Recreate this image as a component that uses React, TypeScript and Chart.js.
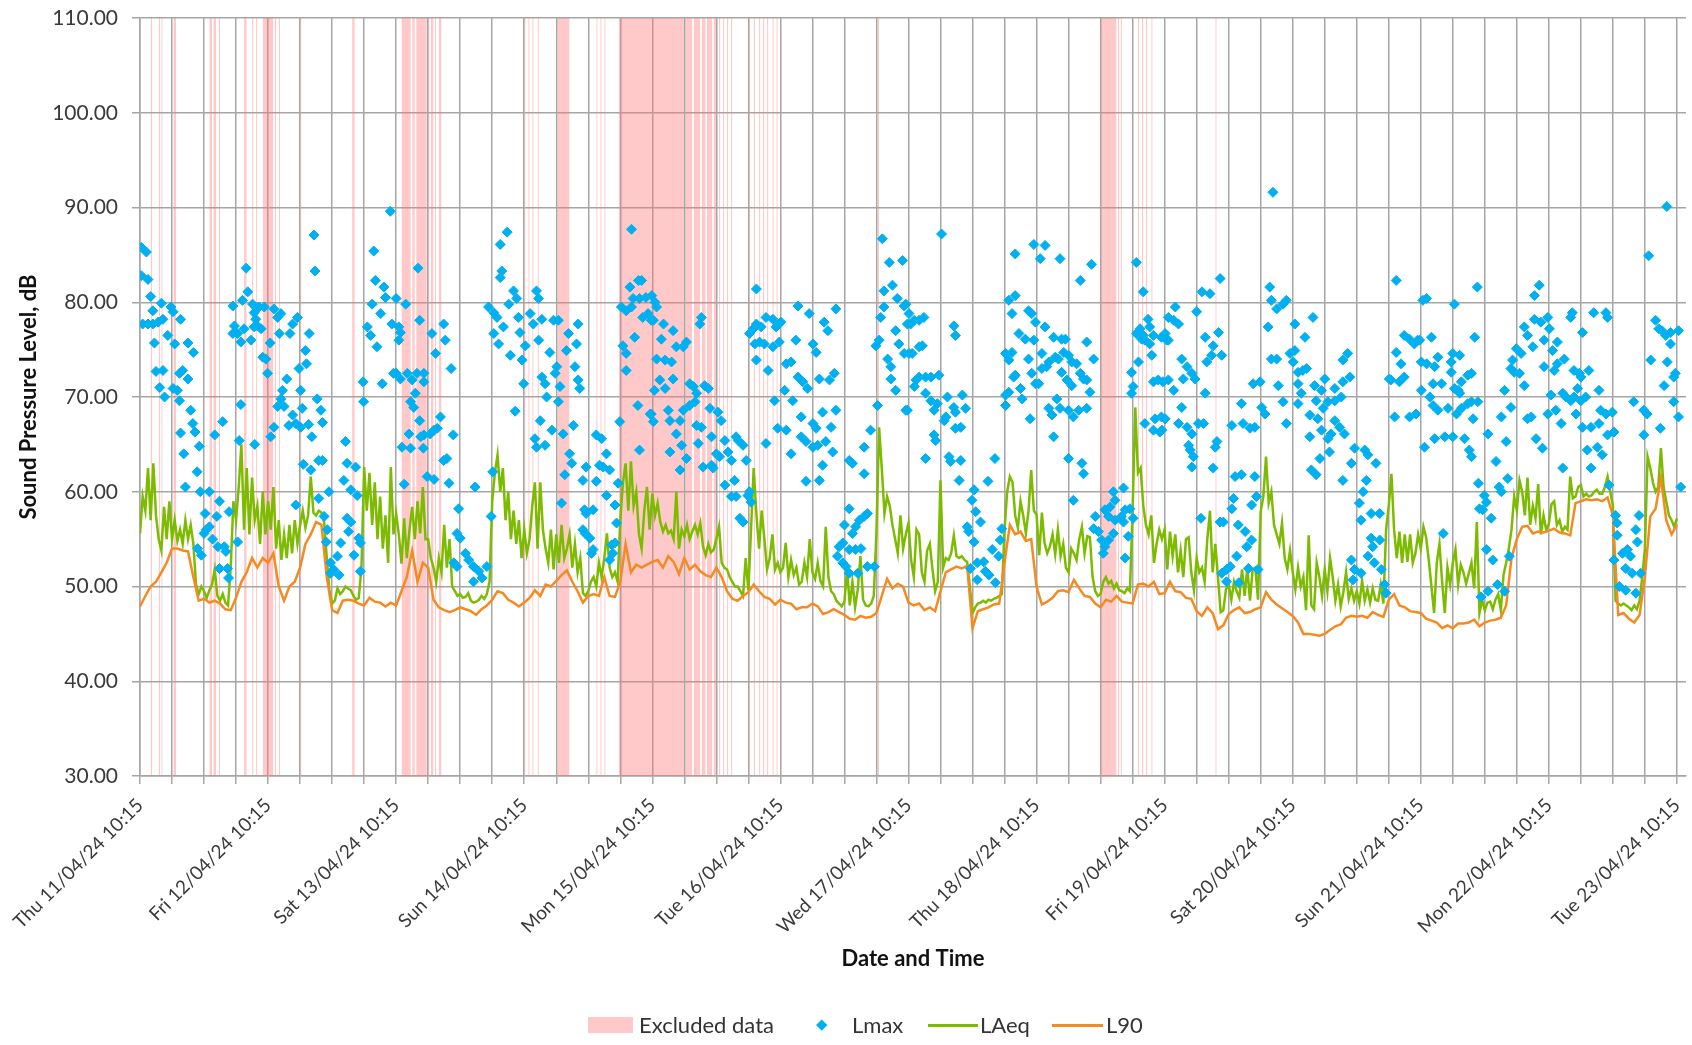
import React, { useEffect, useRef } from 'react';
import { Chart, registerables } from 'chart.js';

Chart.register(...registerables);

// Tick labels: one per day (every 24 h from the start of the survey)
const dayTickLabels = [
  'Thu 11/04/24 10:15', 'Fri 12/04/24 10:15', 'Sat 13/04/24 10:15', 'Sun 14/04/24 10:15',
  'Mon 15/04/24 10:15', 'Tue 16/04/24 10:15', 'Wed 17/04/24 10:15', 'Thu 18/04/24 10:15',
  'Fri 19/04/24 10:15', 'Sat 20/04/24 10:15', 'Sun 21/04/24 10:15', 'Mon 22/04/24 10:15',
  'Tue 23/04/24 10:15',
];

// LAeq, every 30 minutes from Thu 11/04/24 10:15 (hours 0 .. 288)
const laeqHalfHourly = [
  55.6,59.5, 58,62.5, 57,63, 57.5,55, 53.8,58.4, 55,59,
  55,57, 54.8,56, 54.5,57, 55,56.5, 54.5,50.2, 49.2,50,
  49.5,48.8, 49.6,50.2, 51.8,49, 48.5,49.2, 48.3,48, 52,59,
  57,60.5, 65,56, 62.5,55.5, 61.5,57, 58.5,54.5, 60,55.5,
  59,56, 60.5,54, 57,52.8, 55.5,53, 56.5,53.5, 57,54.5,
  56.5,58, 56.2,57.5, 61.6,57.8, 57.5,58, 57.8,56.8, 53,49.5,
  48.2,48.5, 49.8,49.2, 49.5,50, 49.8,49.6, 49,48.6, 48.8,52,
  62.6,58, 62,56.5, 61,55, 59.5,54, 57.5,52.5, 62.6,55.5,
  57.7,55.5, 52.4,57.2, 53,56, 58.4,55, 59,55.6, 60.5,55,
  55,53, 52,50.5, 53,51.5, 56.5,52, 55,50, 49.5,49,
  49.2,48.8, 48.9,49.3, 48.5,48.3, 48.4,48.6, 49,48.7, 49.2,50.5,
  59,62, 63.9,60, 62.5,57, 60,55, 58,54.5, 57,53,
  56,53.5, 55,58.5, 61,54, 61,56, 54,52.5, 56,51.8,
  55.5,52.5, 56.5,53, 54,55.5, 52,54.5, 51.5,53, 49.3,49,
  49.5,50.5, 51,50, 52.5,51, 53,55.6, 52,51, 51.5,50.5,
  57,61, 63,58, 63.2,58.5, 60,55.5, 54,58, 60.5,56,
  59.8,57.5, 58.8,56.8, 55.8,56.5, 55.6,55.9, 55,60, 54,56,
  55.3,56.5, 55,55.8, 56.5,55.5, 56.7,54.2, 53.3,54.5, 53.6,53.9,
  55,56.3, 52.5,52, 51.8,51, 50.5,50, 50,49.5, 49,53,
  49.6,56, 62.5,57.7, 54,58, 55,51.8, 53,55.5, 51.8,52.5,
  51.5,52, 54.6,51, 52.8,51.2, 52,50.2, 50.5,52.5, 51,55,
  51.5,50.8, 52.5,50.6, 50,56.3, 51,49.5, 49.2,48.5, 48.2,47.9,
  48.4,51.8, 48,50.5, 47.8,49.7, 53.2,48.6, 48,47.9, 48.2,49,
  55.8,66.8, 62.5,57.7, 59.5,58.5, 56.5,55, 53.5,57.5, 54,55.5,
  56.7,52.8, 51,56, 55.5,51.5, 50.5,53.8, 54.5,51.8, 49.5,50.5,
  61.2,52, 53,52.8, 53.5,55.4, 53.2,53, 53.2,52.8, 52.6,50,
  47.2,47.8, 48.2,48.3, 48.5,48.3, 48.6,48.5, 48.7,48.8, 49,49.2,
  56,60, 61.6,61, 57.5,56.2, 59,57.5, 55.6,58, 62.3,58,
  57.6,53.3, 57.8,54.6, 53.5,54.2, 55.5,53.4, 56,53.2, 54.5,52,
  51.5,54, 53.5,52.8, 55,56.3, 53.5,55.3, 55.2,51, 49.5,49,
  49.2,50.5, 51,50.3, 50.6,49.8, 50.3,49.6, 49.5,49.3, 49.8,49.5,
  58,68.9, 62,62.5, 58.5,56.5, 55.5,57.5, 52.5,54.5, 56,55,
  56,51.8, 55.8,53.2, 55.5,51.5, 53.8,51, 55,55.2, 51.5,49.6,
  53,51.5, 52,50.5, 55,58, 51.5,54.5, 51,47.3, 47.5,49.7,
  50.2,48.6, 50.5,49.5, 48.8,51.8, 49,52, 48.5,51.8, 52,48.6,
  57.9,59.5, 63.7,58.8, 60,56.5, 55.5,54.5, 56.7,53, 51.8,53.8,
  51.5,49.7, 52,50, 51,47.5, 55.4,48, 47.6,52.5, 51,49,
  51.8,49.5, 53,51, 48.5,50.2, 47.9,49.4, 51.5,48.7, 49.8,48.5,
  49.5,48.2, 50.6,48.5, 49.7,48.3, 49.8,48.6, 48.5,50.2, 48.2,56,
  58.5,61.9, 56,53, 55.8,52.5, 55.5,52.6, 55.5,52.5, 53.5,55.5,
  54,56.3, 55.2,52.8, 50,47.2, 52.5,54.5, 50.5,47.2, 52,50.2,
  52.5,53.9, 50.2,52.3, 51.5,50.3, 51.4,52.5, 49.8,56.8, 47.2,48.6,
  47.5,48.3, 48.4,47.6, 48.6,49.2, 47.5,51.2, 52.5,54, 56,59.5,
  58,61.2, 60,57.5, 61.5,56.5, 58.5,57.2, 60.8,55.5, 57.5,56,
  56.6,58.7, 59,56.5, 57,55.8, 56.3,56, 61.6,59.3, 59.5,60.5,
  60.7,59.5, 59.8,59.5, 59.6,60, 60.2,59.8, 59.8,60.5, 61.6,60,
  58.5,48.5, 48.2,48, 48.2,48, 47.8,47.5, 48,47.6, 48.5,51,
  54,63.7, 62.5,61, 60,60.5, 64.6,60.5, 59,57.5, 57,56.3,
  57.2,
];

// L90, hourly from Thu 11/04/24 10:15 (hours 0 .. 288)
const l90Hourly = [
  47.9, 49, 50, 50.5, 51.5, 52.5, 54, 54, 53.8, 53.7, 51, 48.5, 48.7,
  48.3, 48.5, 48.2, 47.6, 47.5, 48.8, 50.5, 51.5, 53, 52, 53, 52.5,
  53.5, 50, 48.5, 50, 50.5, 52, 54.5, 55.5, 56.8, 56.5, 51, 47.5,
  47.2, 48.5, 48.6, 48.5, 48.2, 48, 48.8, 48.4, 48.3, 47.9, 48.3, 48,
  49.5, 51, 53.8, 50.5, 52.5, 52, 48.6, 47.8, 47.5, 47.3, 47.5, 47.8,
  47.6, 47.4, 47, 47.6, 48, 48.6, 49.5, 49.3, 48.6, 48.3, 47.9, 48.3,
  48.8, 49.6, 49, 50.2, 50, 50.6, 51.2, 51.7, 50.5, 49.5, 48.3, 49,
  49.2, 49, 51, 49, 48.9, 50.5, 54.5, 51.5, 52.3, 52, 52.3, 52.6,
  52.8, 52, 53.2, 52.6, 51.3, 53, 51.8, 52.3, 51.6, 51.2, 51, 52,
  51, 49.5, 48.7, 48.5, 49, 49.4, 50.2, 49.5, 48.9, 48.7, 48.1, 48.6,
  48.3, 48.2, 47.6, 47.8, 47.8, 48.2, 47.9, 47.1, 47.3, 47.6, 47.3, 47,
  46.6, 46.5, 46.9, 46.7, 46.8, 47.2, 49, 50.8, 49.8, 50.3, 50, 48.3,
  48, 48.2, 47.5, 47.8, 47.4, 49.5, 51.5, 51.8, 52.1, 51.9, 52.2, 45.6,
  47.4, 47.6, 47.8, 48.1, 48.2, 52.5, 56.5, 55.5, 55.8, 54.8, 55, 50,
  48.1, 48.4, 48.8, 49.5, 49.6, 49.4, 50.7, 49.8, 49, 48.9, 48.2, 47.8,
  48.6, 48.4, 49, 48.4, 48.3, 48.2, 50.2, 50.3, 50, 50.5, 49.2, 49.3,
  50.5, 49.5, 49.4, 48.8, 48.7, 47.4, 46.9, 47.8, 47.2, 45.5, 45.9, 47.1,
  47.5, 47.8, 47.2, 47.3, 47.6, 47.8, 49.4, 48.6, 48.1, 47.7, 47.3, 46.9,
  46.2, 45, 45, 44.9, 44.8, 45, 45.4, 45.8, 46, 46.7, 46.9, 46.8,
  46.9, 46.7, 47.3, 47, 46.8, 48.6, 49.2, 48, 47.8, 47.4, 47.3, 47.2,
  46.6, 46.4, 46.2, 45.6, 45.9, 45.6, 46.1, 46.1, 46.2, 46.5, 45.8, 46.2,
  46.4, 46.5, 46.7, 48, 53, 55, 56.3, 56.4, 55.6, 55.8, 55.7, 55.9,
  56.1, 55.7, 55.6, 55.4, 58.8, 59, 59.2, 59.1, 59.2, 59, 59.4, 57.5,
  47, 47.2, 46.6, 46.2, 47, 51, 57.4, 58.2, 61.5, 57, 55.5, 56.5,
];

// Lmax readings: [hours since Thu 11/04/24 10:15, dB]
const lmaxReadings: [number, number][] = [
  [0.25,85.8],[0.25,82.8],[0.5,77.7],[1.2,85.3],[1.5,82.4],[1.5,77.7],[2.0,80.6],[2.4,79.1],[2.4,77.7],[2.7,75.7],
  [3.0,72.7],[3.4,77.9],[3.7,71.0],[4.0,79.9],[4.3,78.2],[4.3,72.8],[4.6,70.0],[5.2,76.5],[5.8,79.5],[6.2,79.0],
  [6.2,70.9],[6.5,75.6],[7.0,70.7],[7.4,72.5],[7.4,69.6],[7.6,78.2],[7.6,66.2],[8.0,72.8],[8.2,64.0],[8.5,60.5],
  [9.0,75.7],[9.0,71.9],[9.5,68.6],[9.9,67.2],[10.0,74.7],[10.3,66.3],[10.7,62.1],[10.8,54.0],[11.1,64.8],[11.3,60.0],
  [11.5,53.3],[12.0,55.6],[12.2,57.7],[12.4,56.0],[13.0,60.0],[13.0,56.3],[13.6,55.0],[14.0,66.0],[14.4,57.4],[14.6,54.2],
  [14.9,59.0],[14.9,51.9],[15.5,67.4],[15.8,54.2],[16.1,53.7],[16.4,51.9],[16.6,50.9],[16.7,57.9],[17.4,79.6],[17.4,76.7],
  [17.7,77.5],[18.3,54.7],[18.3,76.7],[18.6,65.4],[18.9,69.2],[18.9,75.8],[19.2,80.2],[19.5,77.2],[19.9,83.6],[20.2,81.1],
  [20.8,76.0],[21.1,79.8],[21.4,78.9],[21.4,77.4],[21.5,65.0],[21.7,78.2],[22.0,77.5],[22.3,79.5],[22.7,77.2],[23.0,74.2],
  [23.3,79.5],[23.6,74.0],[23.9,72.5],[24.4,75.7],[24.5,65.8],[25.1,79.3],[25.1,66.8],[25.8,78.4],[25.8,69.0],[26.1,76.7],
  [26.4,78.8],[26.4,69.8],[26.7,70.7],[27.0,69.0],[27.5,71.9],[27.9,67.0],[28.1,76.7],[28.6,77.7],[28.6,68.1],[29.2,67.2],
  [29.2,58.6],[29.5,78.4],[29.8,73.0],[30.1,70.7],[30.1,66.8],[30.4,68.8],[30.6,62.9],[31.0,74.9],[31.2,73.5],[31.6,67.1],
  [31.7,76.7],[32.0,62.3],[32.2,65.8],[32.6,87.1],[32.8,83.3],[33.2,69.8],[33.5,63.3],[33.5,59.3],[33.9,68.6],[34.2,67.3],
  [34.2,63.3],[34.5,57.4],[34.9,54.7],[35.1,56.0],[35.4,60.0],[35.7,52.5],[35.7,51.4],[36.3,51.8],[37.0,53.2],[37.3,51.2],
  [37.6,54.6],[38.2,61.2],[38.5,65.3],[38.8,63.0],[38.8,57.2],[39.1,55.8],[39.5,60.2],[39.5,56.8],[40.1,53.3],[40.4,62.6],
  [40.7,59.6],[41.0,55.1],[41.3,54.6],[41.3,51.6],[41.8,71.6],[41.9,69.5],[42.6,77.4],[43.2,76.5],[43.5,79.8],[43.8,85.4],
  [44.1,82.3],[44.4,75.3],[45.1,78.8],[45.4,71.4],[45.7,81.6],[46.0,80.5],[46.9,89.6],[47.2,77.7],[47.5,72.5],
  [48.0,80.4],[48.5,77.4],[48.8,76.8],[48.5,76.0],[49.8,79.8],[52.1,83.6],[52.4,78.1],[48.0,72.5],[48.8,71.9],[50.1,72.5],
  [51.0,71.8],[51.9,72.5],[53.2,72.5],[53.2,71.6],[51.6,70.4],[50.7,69.5],[51.3,68.9],[54.7,76.7],[56.9,77.7],[57.2,76.0],
  [55.4,74.6],[58.3,73.0],[56.3,67.9],[55.7,66.7],[55.1,66.5],[54.4,66.1],[52.4,67.5],[52.6,65.8],[53.2,66.0],[50.4,66.1],
  [49.1,64.7],[50.7,64.6],[53.1,64.6],[58.7,66.0],[56.9,63.3],[57.5,63.5],[49.5,60.8],[53.8,61.6],[55.1,61.3],[57.9,60.9],
  [62.8,60.5],[59.7,58.2],[59.4,55.6],[60.0,55.1],[61.0,53.5],[61.6,52.8],[58.8,52.5],[59.4,52.1],[62.5,52.1],[63.5,51.6],
  [62.5,50.5],[64.1,50.9],[65.0,52.1],[65.8,57.4],[66.1,62.1],[65.3,79.5],[66.3,78.9],[66.9,78.4],[67.5,86.1],[68.8,87.4],
  [67.8,83.3],[67.5,82.6],[66.3,76.7],[67.2,75.6],[68.1,77.4],[69.1,79.8],[70.0,81.2],[70.6,80.4],[69.4,74.4],[70.9,78.4],
  [71.2,76.8],[72.2,75.4],[71.6,73.9],[71.9,71.4],[70.3,68.5],[73.1,78.8],[73.7,77.7],[74.3,81.2],[74.7,80.4],[74.7,76.0],
  [75.3,78.2],[75.3,72.1],[75.9,71.4],[75.0,67.5],[74.0,65.6],[74.3,64.7],[76.2,70.0],[75.9,64.9],[76.8,74.7],[77.5,78.1],
  [78.4,78.1],[78.1,73.2],[77.8,72.5],[78.7,71.1],[78.4,69.5],[77.2,66.5],[79.3,66.1],[80.3,76.7],[79.9,74.9],[81.8,75.6],
  [82.1,77.7],[81.5,73.2],[82.1,71.8],[82.4,70.9],[81.2,67.0],[80.5,64.0],[80.9,63.0],[79.6,61.8],[79.0,58.8],[83.3,58.1],
  [83.6,57.7],[84.9,58.1],[83.0,56.0],[83.4,55.6],[84.3,55.1],[84.6,53.5],[84.9,53.9],[83.6,62.6],[83.0,61.2],[85.5,66.0],
  [86.5,65.6],[86.1,62.8],[86.8,62.6],[87.4,64.0],[88.0,62.3],[85.5,61.1],[87.4,59.6],[89.0,58.6],[89.3,56.7],[88.4,54.4],
  [89.0,54.6],[88.0,52.8],[88.6,53.5],[89.6,60.9],[89.9,67.4],[91.1,72.8],[90.5,75.4],[91.1,74.6],[90.2,79.5],[91.1,79.1],
  [92.1,79.5],[91.8,81.6],[93.4,82.3],[94.0,82.3],[92.1,87.7],[92.7,76.3],[92.4,80.4],[93.6,80.4],[94.8,80.5],[94.2,78.4],
  [95.2,78.8],[95.8,78.1],[93.3,69.1],[93.6,64.4],[95.8,68.2],[96.4,70.7],
  [95.9,80.7],[96.5,80.0],[96.8,79.5],[96.2,78.1],[98.1,77.7],[99.9,77.0],[97.7,76.1],[96.8,74.0],[98.4,73.9],[99.6,73.7],
  [100.5,75.3],[101.8,75.3],[102.4,75.8],[105.2,78.4],[104.9,77.7],[97.4,71.8],[98.4,70.9],[99.9,71.9],[103.0,71.4],[103.7,71.1],
  [104.3,70.4],[105.8,71.2],[106.5,70.9],[95.6,68.2],[96.2,67.4],[99.0,68.6],[99.3,67.5],[101.8,68.6],[103.0,69.1],[104.0,69.5],
  [106.8,68.8],[108.3,68.4],[101.2,67.5],[100.5,66.1],[101.5,64.9],[104.3,67.0],[105.2,66.8],[107.1,65.8],[108.9,67.5],[102.4,63.5],
  [101.2,62.3],[99.3,64.2],[104.6,65.1],[105.5,62.6],[107.1,62.8],[107.4,62.5],[108.0,64.0],[108.6,63.7],[109.6,65.4],[110.2,64.2],
  [110.8,63.3],[111.7,65.8],[112.1,65.4],[113.0,64.9],[113.6,63.3],[109.6,60.7],[110.8,59.5],[111.7,59.5],[111.4,61.2],[112.4,57.2],
  [113.0,56.8],[113.9,59.6],[114.5,58.9],[114.2,60.0],[115.5,81.4],[114.2,76.7],[114.9,77.2],[115.5,77.7],[116.4,77.4],[117.3,78.4],
  [118.6,78.2],[119.2,77.4],[115.2,75.6],[116.1,75.8],[117.0,75.6],[118.6,75.3],[119.8,75.8],[115.5,73.9],[117.7,72.8],[120.1,77.9],
  [117.3,65.1],[118.9,69.6],[123.3,79.6],[125.4,78.8],[128.2,77.9],[128.9,77.0],[130.4,79.3],[122.9,76.0],[126.1,75.6],[126.7,74.7],
  [121.1,73.5],[122.0,73.7],[123.3,72.1],[124.2,71.6],[125.1,70.9],[127.3,71.9],[129.2,71.8],[130.1,72.5],[120.8,70.7],[122.3,69.6],
  [123.9,67.9],[126.1,67.2],[126.7,66.7],[119.5,66.7],[121.1,66.5],[127.9,68.4],[130.4,68.6],[129.5,66.8],[123.9,65.8],[124.8,65.3],
  [126.1,64.7],[127.0,64.9],[128.5,65.3],[122.0,64.0],[129.8,64.2],[127.9,62.8],[124.8,61.1],[127.3,61.2],[132.9,63.3],[133.5,63.0],
  [135.7,61.9],[136.9,66.5],[135.7,64.7],[132.9,58.2],[136.3,57.7],[135.7,57.4],[134.8,57.0],[132.0,56.5],[133.5,55.6],[134.1,56.3],
  [131.0,54.2],[131.7,54.6],[132.9,53.9],[134.1,53.9],[135.1,54.0],[130.7,53.2],[131.7,52.5],[132.3,52.1],[132.9,51.4],[134.5,51.4],
  [136.3,52.1],[137.6,52.1],[138.2,69.1],[137.9,75.4],[138.5,76.0],[138.8,78.4],[139.4,79.5],[139.1,86.7],[139.4,81.2],[140.4,84.2],
  [142.9,84.4],[141.0,81.8],[141.9,80.4],[141.6,77.0],[142.2,75.6],[140.1,74.0],[140.7,73.2],[140.7,71.9],[141.6,70.7],[143.2,79.6],
  [143.8,77.7],[143.2,74.6],[143.8,68.6],
  [143.5,79.8],[144.1,78.8],[144.4,77.7],[145.1,78.1],[146.0,78.1],[146.9,78.4],[144.1,74.6],[144.7,74.6],[146.0,75.3],[146.6,75.4],
  [145.4,71.8],[145.1,71.1],[146.0,72.1],[147.2,72.1],[148.2,72.1],[149.7,72.3],[143.5,68.6],[147.2,70.4],[148.2,69.6],[148.8,68.6],
  [149.4,69.3],[151.3,70.0],[152.5,68.9],[152.8,68.4],[154.1,70.2],[154.7,68.8],[151.0,67.9],[150.7,67.5],[152.8,66.7],[153.8,66.8],
  [148.8,66.0],[149.1,65.4],[151.6,63.7],[151.9,63.2],[153.8,63.3],[147.2,63.5],[153.5,61.2],[152.5,77.5],[152.8,76.5],[150.2,87.2],
  [156.3,60.2],[155.9,59.1],[156.6,57.9],[157.5,56.8],[155.0,56.3],[155.3,55.8],[156.3,54.7],[155.6,51.9],[156.9,52.5],[158.1,52.6],
  [156.9,50.7],[158.4,51.6],[159.1,51.2],[159.7,53.9],[160.3,50.4],[160.9,53.2],[161.2,54.9],[161.5,56.1],[158.9,61.1],[160.2,63.5],
  [162.2,74.6],[163.4,74.7],[164.0,85.1],[162.8,80.2],[164.0,80.7],[163.4,78.8],[162.2,70.2],[162.8,70.5],[162.2,69.1],[162.8,73.9],
  [163.7,72.1],[164.0,72.3],[164.7,76.7],[165.9,76.1],[165.0,70.9],[165.3,69.8],[166.5,79.1],[167.1,78.8],[167.8,77.9],[166.5,74.0],
  [167.1,72.5],[167.8,71.4],[168.4,71.4],[167.5,76.0],[166.8,67.7],[167.5,86.1],[168.7,84.6],[169.6,86.0],[169.6,77.4],[171.2,76.3],
  [172.7,76.1],[169.0,74.6],[170.3,73.7],[171.5,74.2],[172.1,74.0],[173.1,74.7],[169.0,73.0],[169.9,73.2],[172.7,72.6],[174.0,74.4],
  [174.6,73.7],[175.5,73.5],[176.2,72.5],[176.8,71.9],[173.7,71.8],[174.6,71.2],[170.3,68.8],[170.9,68.1],[171.8,69.8],[172.4,68.8],
  [174.0,68.6],[174.9,67.9],[175.9,68.6],[177.4,68.8],[177.4,71.8],[178.0,70.5],[171.2,65.8],[172.4,84.6],[173.4,76.1],[176.2,82.3],
  [178.3,84.0],[177.4,75.8],[178.7,74.0],[174.0,63.5],[176.5,63.0],[176.8,61.9],[174.9,59.1],[179.0,57.4],[178.7,56.1],[179.6,55.8],
  [180.2,54.9],[180.5,53.5],[180.8,58.1],[181.8,58.4],[182.7,59.1],[182.4,60.0],[184.3,60.4],[181.5,57.4],[182.7,57.0],[183.9,57.4],
  [184.6,58.1],[185.5,58.2],[184.3,56.8],[185.2,55.3],[184.6,53.0],[186.1,57.2],[182.4,55.6],[181.5,54.9],[180.8,54.2],[185.8,70.4],
  [186.1,71.1],[185.8,72.6],[186.7,84.2],[188.0,81.1],[187.1,73.7],[186.7,76.7],[187.4,77.2],[188.0,76.5],[188.9,78.2],[189.2,77.4],
  [189.6,74.4],[189.2,75.6],[188.3,76.0],[187.7,76.1],[189.9,71.6],[190.8,71.8],[191.7,71.6],[188.3,67.2],[189.9,66.5],[191.1,66.3],
  [190.2,67.7],[191.4,67.9],[189.9,76.5],[191.4,76.3],[192.4,76.0],
  [194.0,79.5],[192.7,78.4],[193.7,78.1],[194.6,77.7],[192.1,76.7],[192.7,76.0],[198.0,79.0],[199.0,81.1],[200.5,80.9],[202.4,82.5],
  [199.6,76.3],[201.1,75.4],[202.1,76.8],[199.9,73.7],[200.8,74.4],[202.7,74.4],[195.2,74.0],[196.2,73.2],[197.1,72.5],[197.7,71.9],
  [192.7,71.8],[193.7,70.7],[195.5,71.9],[199.6,70.4],[195.2,68.9],[192.1,67.7],[191.5,66.5],[194.6,67.2],[196.2,66.8],[197.1,66.1],
  [198.3,67.2],[199.3,67.2],[196.5,64.9],[196.8,64.4],[197.4,63.7],[197.1,62.6],[201.5,64.7],[201.8,65.3],[201.1,62.5],[198.8,57.2],
  [202.4,56.8],[203.0,56.8],[205.2,61.6],[206.4,61.8],[208.9,61.6],[204.9,59.3],[204.6,58.2],[208.3,58.6],[209.2,59.5],[205.8,56.5],
  [207.1,55.8],[208.3,54.9],[207.4,54.2],[205.5,53.2],[202.7,51.4],[203.6,51.8],[204.3,52.1],[203.6,50.5],[205.9,50.4],[207.7,51.9],
  [209.5,51.8],[204.6,67.0],[206.4,69.3],[206.7,67.2],[208.0,66.7],[208.9,66.8],[208.6,71.4],[209.9,71.6],[210.2,68.9],[210.8,68.2],
  [211.4,77.4],[212.0,74.0],[213.0,74.0],[211.7,81.6],[212.3,91.6],[212.0,80.2],[213.0,79.3],[214.2,79.8],[214.8,80.2],[213.3,71.2],
  [214.2,69.5],[215.5,74.6],[216.1,73.7],[216.4,74.9],[216.4,77.7],[217.0,72.6],[217.9,72.8],[218.6,73.0],[217.0,71.4],[217.6,70.4],
  [217.0,69.3],[214.8,67.2],[219.8,78.4],[218.3,76.3],[220.1,71.2],[221.4,70.7],[222.0,71.9],[219.2,68.1],[220.7,67.7],[221.7,68.8],
  [220.4,69.6],[222.6,69.5],[223.9,69.6],[225.4,73.9],[226.3,74.6],[225.4,71.6],[226.7,72.1],[223.9,70.9],[225.1,70.0],[221.4,66.5],
  [222.6,65.6],[223.2,66.1],[223.9,67.5],[224.8,66.8],[225.7,66.1],[219.2,65.8],[221.1,63.5],[219.5,62.3],[220.4,61.8],[222.9,64.2],
  [227.0,63.0],[225.4,61.2],[227.6,64.6],[229.5,64.4],[230.1,63.9],[231.6,63.0],[229.2,60.0],[229.8,61.2],[228.5,58.8],[228.8,57.0],
  [230.7,57.7],[232.3,57.7],[230.7,55.1],[232.3,54.9],[231.0,54.2],[230.1,53.2],[231.3,52.5],[227.0,52.8],[227.6,51.8],[228.8,51.4],
  [227.3,50.7],[232.6,51.8],[233.2,50.2],[233.5,49.3],[234.1,71.9],[234.4,71.8],[235.4,82.3],[235.1,67.9],[235.4,74.7],[236.3,73.5],
  [236.9,76.5],[237.9,76.1],[238.8,75.6],[236.0,71.6],[236.9,72.1],[237.9,67.9],[239.1,68.2],[239.4,76.0],[240.4,80.2],
  [241.1,80.4],[239.8,76.0],[242.0,76.3],[240.1,73.7],[241.1,73.5],[242.6,73.2],[240.1,70.7],[242.3,71.4],[243.9,71.4],[241.7,70.0],
  [242.3,69.1],[243.2,68.6],[245.1,68.8],[240.7,64.7],[242.6,65.6],[244.5,65.8],[246.0,65.8],[244.2,55.6],[243.2,74.2],[245.7,73.7],
  [246.0,74.6],[246.3,79.8],[247.3,74.4],[245.7,72.6],[247.6,71.6],[248.8,72.3],[249.5,72.5],[247.0,70.7],[246.3,70.9],[247.3,70.4],
  [246.7,68.2],[247.6,68.8],[248.8,69.3],[249.5,69.5],[250.7,69.5],[249.8,67.7],[248.2,65.6],[249.1,64.4],[249.5,63.7],[250.1,76.3],
  [250.6,81.6],[250.8,60.9],[251.9,59.6],[252.3,58.9],[251.0,58.2],[251.6,58.1],[253.2,57.2],[252.3,53.9],[253.5,52.8],[251.3,48.9],
  [252.6,49.5],[254.4,50.2],[255.7,49.5],[256.6,53.2],[252.6,66.1],[254.1,63.2],[256.0,65.3],[254.7,60.5],[255.1,60.0],[256.3,61.4],
  [255.7,70.7],[255.1,67.9],[256.9,68.9],[257.9,75.1],[258.8,74.6],[256.9,73.0],[257.5,72.6],[258.5,72.5],[257.2,73.9],[259.4,71.2],
  [259.4,77.4],[260.0,76.5],[261.0,75.3],[261.3,78.2],[262.5,77.9],[261.3,80.7],[262.2,81.8],[260.0,67.7],[260.7,67.9],[261.6,65.6],
  [262.8,64.6],[263.1,76.0],[264.1,77.2],[264.7,74.9],[265.6,75.8],[263.8,78.4],[263.1,73.2],[265.0,72.8],[265.6,73.5],[264.4,70.2],
  [263.8,68.2],[265.3,68.6],[266.3,67.2],[266.9,74.0],[268.1,78.4],[268.4,78.9],[270.3,76.8],[268.7,72.8],[269.7,72.5],[270.0,72.1],
  [271.5,72.8],[266.6,70.4],[267.2,70.0],[268.1,69.6],[268.7,70.0],[269.4,70.9],[270.0,69.6],[270.9,70.0],[269.1,68.2],[270.3,66.8],
  [271.9,66.8],[271.2,64.4],[273.1,64.7],[274.0,63.9],[271.9,62.5],[266.6,62.5],[272.4,78.9],[274.7,78.9],[275.0,78.4],[273.4,70.7],
  [273.7,68.6],[274.7,68.2],[273.4,67.2],[275.0,66.0],[276.2,66.3],[275.9,68.4],[275.3,60.7],[276.5,57.5],[276.8,56.7],[276.8,55.4],
  [276.2,52.8],[277.8,53.5],[278.7,53.9],[279.3,53.2],[277.2,50.0],[278.4,49.6],[280.3,49.3],[278.4,51.9],[279.6,51.4],[280.9,57.5],
  [280.3,56.0],[280.6,54.7],[281.2,51.4],[279.9,69.5],[281.8,68.6],[282.4,68.2],[281.8,66.0],[282.7,84.9],[283.1,73.9],[284.0,78.1],
  [284.6,77.2],[284.9,66.7],[285.2,77.0],[285.9,76.5],[286.8,76.8],[286.8,75.6],[286.2,73.7],[285.6,71.2],[287.4,72.1],[287.7,72.5],
  [286.1,90.1],[287.4,69.5],[288.3,67.9],[288.3,77.0],[288.7,60.5],
];

// Periods flagged as excluded: [start hour, end hour]
const excludedPeriods: [number, number][] = [
  [2.0,2.25],[3.5,3.75],[4.0,4.25],[6.25,6.75],[13.0,13.5],[13.75,14.25],[14.75,15.0],[19.5,20.0],
  [21.0,21.25],[21.75,22.0],[23.0,25.0],[25.25,25.5],[26.0,26.25],[30.0,30.25],[39.75,40.25],
  [49.0,50.75],[51.0,51.5],[51.75,53.75],[54.0,54.25],[54.5,55.0],[55.25,55.5],[56.0,56.5],
  [72.0,72.25],[72.75,73.0],[73.5,73.75],[74.5,74.75],[78.25,80.5],[85.5,85.75],[86.25,86.5],[87.0,87.25],
  [89.75,102.0],[102.25,103.5],[103.75,105.0],[105.25,106.0],[106.25,107.25],[107.5,108.0],[108.5,108.75],
  [109.25,109.5],[110.0,110.25],[110.75,111.0],[114.0,114.25],[115.0,115.25],[116.0,116.25],[116.75,117.0],
  [117.5,117.75],[118.5,118.75],[119.25,119.5],
  [138.25,138.5],
  [180.0,183.0],[183.25,183.5],[183.75,184.0],[187.0,187.25],[187.75,188.0],[188.5,188.75],[189.5,189.75],
  [201.5,201.75],
];

const X_MAX_HOURS = 289.7;
const Y_MIN = 30;
const Y_MAX = 110;

const FONT = 'Lato, "Noto Sans", sans-serif';

export default function App() {
  const canvasRef = useRef<HTMLCanvasElement | null>(null);

  useEffect(() => {
    if (!canvasRef.current) return;

    const excludedData: { x: number; y: number | null }[] = [];
    excludedPeriods.forEach(([a, b]) => {
      excludedData.push({ x: a, y: Y_MAX }, { x: b, y: Y_MAX }, { x: b, y: null });
    });
    const laeqData = laeqHalfHourly.map((y, i) => ({ x: i * 0.5, y }));
    const l90Data = l90Hourly.map((y, i) => ({ x: i, y }));
    const lmaxData = lmaxReadings.map(([x, y]) => ({ x, y }));

    const gridColor = '#a6a6a6';

    const chart = new Chart(canvasRef.current, {
      type: 'line',
      data: {
        datasets: [
          {
            label: 'Excluded data',
            data: excludedData as any,
            fill: 'start',
            backgroundColor: 'rgba(255,120,120,0.4)',
            borderWidth: 0,
            borderColor: 'rgba(0,0,0,0)',
            pointRadius: 0,
            spanGaps: false,
            order: 5,
          },
          {
            label: 'LAeq',
            data: laeqData,
            borderColor: '#7dbb00',
            borderWidth: 2.5,
            pointRadius: 0,
            fill: false,
            order: 3,
          },
          {
            label: 'L90',
            data: l90Data,
            borderColor: '#f58a22',
            borderWidth: 2.5,
            pointRadius: 0,
            fill: false,
            order: 2,
          },
          {
            type: 'scatter' as any,
            label: 'Lmax',
            data: lmaxData,
            pointStyle: 'rectRot',
            pointRadius: 5,
            pointBorderWidth: 1,
            backgroundColor: '#00b0f0',
            borderColor: '#00b0f0',
            showLine: false,
            order: 1,
          } as any,
        ],
      },
      options: {
        responsive: false,
        animation: false,
        events: [],
        layout: { padding: { top: 18, bottom: 70, left: 0, right: 0 } },
        plugins: {
          legend: { display: false },
          tooltip: { enabled: false },
        },
        scales: {
          x: {
            type: 'linear',
            min: 0,
            max: X_MAX_HOURS,
            bounds: 'data',
            afterFit: (scale: any) => {
              scale.height = 199;
              scale.paddingLeft = 0;
              scale.paddingRight = 0;
            },
            grid: { color: gridColor, lineWidth: 1.5, tickLength: 8, drawTicks: true },
            border: { color: gridColor, width: 1.5 },
            ticks: {
              stepSize: 6,
              autoSkip: false,
              includeBounds: false,
              maxRotation: 45,
              minRotation: 45,
              padding: 10,
              color: '#3a3a3a',
              font: { family: FONT, size: 19 },
              callback: (v: any) => {
                const n = Number(v);
                return n % 24 === 0 ? dayTickLabels[n / 24] : '';
              },
            },
            title: {
              display: true,
              text: 'Date and Time',
              color: '#111',
              font: { family: FONT, size: 22, weight: 'bold' },
              padding: { top: 0, bottom: 3 },
            },
          },
          y: {
            type: 'linear',
            min: Y_MIN,
            max: Y_MAX,
            afterFit: (scale: any) => {
              scale.width = 140;
              scale.paddingTop = 0;
              scale.paddingBottom = 0;
            },
            grid: { color: gridColor, lineWidth: 1.5, tickLength: 8, drawTicks: true },
            border: { color: gridColor, width: 1.5 },
            ticks: {
              stepSize: 10,
              padding: 14,
              color: '#3a3a3a',
              font: { family: FONT, size: 21 },
              callback: (v: any) => Number(v).toFixed(2),
            },
            title: {
              display: true,
              text: 'Sound Pressure Level, dB',
              color: '#111',
              font: { family: FONT, size: 22, weight: 'bold' },
              padding: { top: 16, bottom: 0 },
            },
          },
        },
      } as any,
    });

    return () => chart.destroy();
  }, []);

  const legendText: React.CSSProperties = {
    position: 'absolute',
    top: 0,
    lineHeight: '26px',
    fontSize: 22,
    color: '#333',
    whiteSpace: 'nowrap',
  };

  return (
    <div
      style={{
        position: 'absolute',
        left: 0,
        top: 0,
        width: 1692,
        height: 1045,
        background: '#fff',
        fontFamily: FONT,
        overflow: 'hidden',
      }}
    >
      <canvas ref={canvasRef} width={1692} height={1045} style={{ display: 'block' }} />
      <div style={{ position: 'absolute', left: 0, top: 1012, width: 1692, height: 26 }}>
        <span style={{ position: 'absolute', left: 588, top: 5, width: 45, height: 16, background: 'rgb(255,201,201)' }} />
        <span style={{ ...legendText, left: 639 }}>Excluded data</span>
        <span
          style={{
            position: 'absolute',
            left: 818,
            top: 9,
            width: 7.5,
            height: 7.5,
            background: '#00b0f0',
            transform: 'rotate(45deg)',
          }}
        />
        <span style={{ ...legendText, left: 852 }}>Lmax</span>
        <span style={{ position: 'absolute', left: 928, top: 12, width: 50, height: 2.5, background: '#7dbb00' }} />
        <span style={{ ...legendText, left: 980 }}>LAeq</span>
        <span style={{ position: 'absolute', left: 1052, top: 12, width: 51, height: 2.5, background: '#f58a22' }} />
        <span style={{ ...legendText, left: 1106 }}>L90</span>
      </div>
    </div>
  );
}
